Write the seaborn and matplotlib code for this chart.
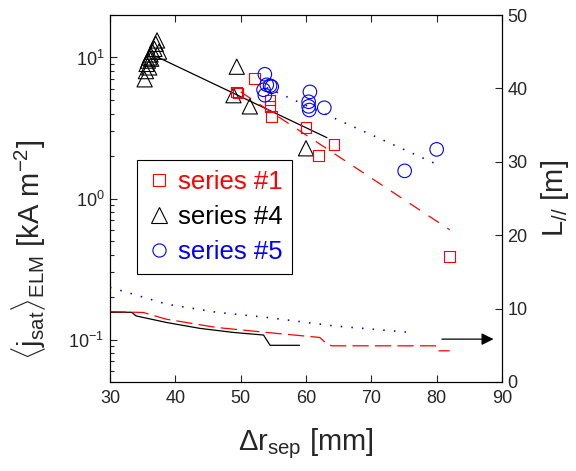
import numpy as np
import pandas as pd
import matplotlib
matplotlib.use('Agg')
import matplotlib.pyplot as plt
from matplotlib.lines import Line2D
import seaborn as sns

# ---- data -------------------------------------------------------------
# series #1 (red squares)
s1_x = [49.4, 49.6, 52.1, 54.5, 54.5, 54.75, 60.0, 64.3, 61.9, 82.0]
s1_y = [5.7, 5.6, 7.1, 5.0, 4.5, 3.8, 3.2, 2.42, 2.03, 0.386]
# series #4 (black triangles)
s4_x = [35.3, 35.5, 35.6, 35.8, 36.0, 36.2, 36.5, 36.8, 37.0, 37.2, 36.0, 36.3, 37.5,
        49.4, 48.9, 51.4, 60.0]
s4_y = [7.0, 8.0, 9.0, 9.5, 10.0, 10.5, 11.0, 11.5, 12.5, 13.2, 8.5, 9.8, 11.0,
        8.6, 5.4, 4.5, 2.27]
# series #5 (blue circles)
s5_x = [53.7, 54.0, 54.5, 53.5, 53.7, 54.75, 60.6, 60.4, 60.4, 60.5, 62.8, 75.1, 80.0]
s5_y = [7.6, 6.4, 6.3, 5.9, 5.4, 6.2, 5.7, 4.85, 4.5, 4.24, 4.4, 1.57, 2.23]

# exponential fits (left axis)
fit1_x = [50.0, 82.0]
fit1_y = [5.7, 0.60]
fit4_x = [37.0, 63.2]
fit4_y = [10.2, 2.7]
fit5_x = [54.0, 80.0]
fit5_y = [6.1, 1.75]

# connection length L_// (right axis)
L1_x = [30.0, 35.1, 38.6, 46.3, 54.0, 62.1, 63.3, 64.0, 79.8, 80.0, 82.0]
L1_y = [9.6, 9.47, 8.56, 7.43, 6.75, 6.07, 5.1, 4.93, 4.93, 4.25, 4.25]
L4_x = [30.0, 33.3, 34.0, 38.7, 43.8, 48.9, 53.5, 54.5, 59.0]
L4_y = [9.5, 9.5, 9.0, 8.1, 7.3, 6.75, 6.4, 5.0, 5.0]
L5_x = [30.0, 38.7, 46.3, 54.0, 64.2, 76.0]
L5_y = [12.9, 10.6, 9.5, 8.8, 7.65, 6.75]

arrow_x = [80.8, 88.7]
arrow_y = [5.84, 5.84]

labels = ['series #1', 'series #4', 'series #5']
colors = ['#ff0000', '#000000', '#0000ff']

# ---- style ------------------------------------------------------------
sns.set_style('ticks')
plt.rcParams['font.family'] = ['Liberation Sans', 'DejaVu Sans']
plt.rcParams['mathtext.fontset'] = 'custom'
plt.rcParams['mathtext.rm'] = 'Liberation Sans'
plt.rcParams['mathtext.it'] = 'Liberation Sans:italic'
plt.rcParams['mathtext.bf'] = 'Liberation Sans:bold'
plt.rcParams['xtick.direction'] = 'in'
plt.rcParams['ytick.direction'] = 'in'
plt.rcParams['axes.linewidth'] = 0.8

fig = plt.figure(figsize=(5.76, 4.71), dpi=100)
ax = fig.add_axes([110/576, 1-382/471, (502-110)/576, (382-15)/471])
ax2 = ax.twinx()

# ---- left axis: markers and fits --------------------------------------
lw_m = 0.8
sns.scatterplot(x=s4_x, y=s4_y, ax=ax, marker='^', s=120, facecolor='none',
                edgecolor=colors[1], linewidth=lw_m, zorder=3)
sns.scatterplot(x=s1_x, y=s1_y, ax=ax, marker='s', s=60, facecolor='none',
                edgecolor=colors[0], linewidth=lw_m, zorder=3)
sns.scatterplot(x=s5_x, y=s5_y, ax=ax, marker='o', s=95, facecolor='none',
                edgecolor=colors[2], linewidth=lw_m, zorder=3)

sns.lineplot(x=fit4_x, y=fit4_y, ax=ax, color=colors[1], lw=0.9, sort=False, estimator=None)
sns.lineplot(x=fit1_x, y=fit1_y, ax=ax, color=colors[0], lw=0.9, sort=False, estimator=None)
ax.lines[-1].set_dashes((10, 8))
sns.lineplot(x=fit5_x, y=fit5_y, ax=ax, color=colors[2], lw=1.2, sort=False, estimator=None)
ax.lines[-1].set_dashes((0.9, 5.5))

ax.set_yscale('log')
ax.set_xlim(30, 90)
ax.set_ylim(0.05, 20)
ax.set_xticks([30, 40, 50, 60, 70, 80, 90])
ax.tick_params(axis='x', which='both', top=True, labelsize=13, length=5, width=0.8, pad=6)
ax.tick_params(axis='y', which='major', labelsize=13, length=5, width=0.8, right=False, pad=4)
ax.tick_params(axis='y', which='minor', length=3, width=0.8, right=False)

ax.set_xlabel(r'$\Delta\mathrm{r}_{\mathrm{sep}}\ [\mathrm{mm}]$', fontsize=21, labelpad=14)
ax.set_ylabel(r'$\langle\mathrm{j}_{\mathrm{sat}}\rangle_{\mathrm{ELM}}\ [\mathrm{kA\ m}^{-2}]$',
              fontsize=21)
ax.yaxis.set_label_coords(-0.157, 0.36)

# ---- right axis: connection length ------------------------------------
sns.lineplot(x=L4_x, y=L4_y, ax=ax2, color=colors[1], lw=0.9, sort=False, estimator=None)
sns.lineplot(x=L1_x, y=L1_y, ax=ax2, color=colors[0], lw=0.9, sort=False, estimator=None)
ax2.lines[-1].set_dashes((13, 5))
sns.lineplot(x=L5_x, y=L5_y, ax=ax2, color=colors[2], lw=1.2, sort=False, estimator=None)
ax2.lines[-1].set_dashes((0.9, 5.5))

ax2.annotate('', xy=(arrow_x[1], arrow_y[1]), xytext=(arrow_x[0], arrow_y[0]),
             xycoords='data', textcoords='data',
             arrowprops=dict(arrowstyle='-|>', color='black', lw=0.9,
                             mutation_scale=18, shrinkA=0, shrinkB=0))

ax2.set_ylim(0, 50)
ax2.set_yticks([0, 10, 20, 30, 40, 50])
ax2.tick_params(axis='y', labelsize=13, length=5, width=0.8, direction='in', pad=4)
ax2.set_ylabel(r'$\mathrm{L}_{//}\ [\mathrm{m}]$', fontsize=21, labelpad=8)
ax2.set_xlim(30, 90)

for a in (ax, ax2):
    for sp in a.spines.values():
        sp.set_linewidth(0.8)
        sp.set_color('black')

# ---- legend -----------------------------------------------------------
handles = [
    Line2D([], [], ls='none', marker='s', ms=8.5, mfc='none', mec=colors[0], mew=lw_m),
    Line2D([], [], ls='none', marker='^', ms=11, mfc='none', mec=colors[1], mew=lw_m),
    Line2D([], [], ls='none', marker='o', ms=9.5, mfc='none', mec=colors[2], mew=lw_m),
]
leg = ax.legend(handles, labels, loc='upper left', bbox_to_anchor=(0.069, 0.605),
                borderaxespad=0, fontsize=18.5, frameon=True, fancybox=False,
                handlelength=0.95, handletextpad=0.25, labelspacing=0.44,
                borderpad=0.38, edgecolor='black', framealpha=1)
leg.get_frame().set_linewidth(0.8)
for t, c in zip(leg.get_texts(), colors):
    t.set_color(c)

fig.savefig('out.png', dpi=100)
